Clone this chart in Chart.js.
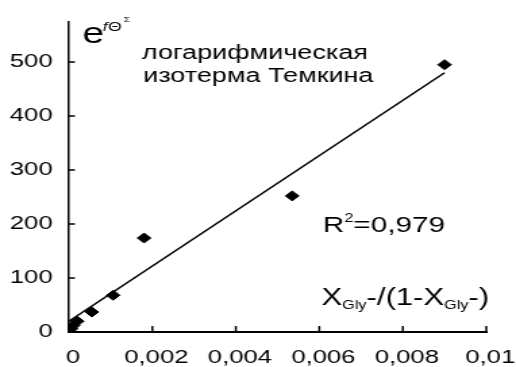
<!DOCTYPE html>
<html>
<head>
<meta charset="utf-8">
<script src="https://cdn.jsdelivr.net/npm/chart.js@4"></script>
<style>
  html, body { margin: 0; padding: 0; background: #fff; }
  #temkinChart { display: block; }
</style>
</head>
<body>
<!-- drawn narrow, shown stretched, like the source figure -->
<canvas id="temkinChart" width="382" height="367" style="width:516px;height:367px"></canvas>
<script>
const xValues = [0, 0.00005, 0.0001, 0.0002, 0.00055, 0.00106, 0.0018, 0.00535, 0.009];
const yValues = [2, 6, 12, 20, 37, 68, 174, 252, 495];
const fitX = [0, 0.009];
const fitY = [20, 480];
const xTicks = [0, 0.002, 0.004, 0.006, 0.008, 0.01];
const xTickLabels = ['0', '0,002', '0,004', '0,006', '0,008', '0,01'];
const yTicks = [0, 100, 200, 300, 400, 500];

const FONT = '"Liberation Sans", Arial, sans-serif';

// inward tick marks and the text on the plot
const annotations = {
  id: 'annotations',
  afterDraw(chart) {
    const ctx = chart.ctx;
    const xs = chart.scales.x;
    const ys = chart.scales.y;
    const area = chart.chartArea;

    ctx.save();
    ctx.strokeStyle = '#000';
    ctx.lineWidth = 1.5;
    ctx.beginPath();
    xTicks.slice(1).forEach(v => {
      const px = xs.getPixelForValue(v);
      ctx.moveTo(px, area.bottom);
      ctx.lineTo(px, area.bottom - 6);
    });
    yTicks.slice(1).forEach(v => {
      const py = ys.getPixelForValue(v);
      ctx.moveTo(area.left, py);
      ctx.lineTo(area.left + 4.5, py);
    });
    ctx.stroke();

    ctx.fillStyle = '#000';
    ctx.textBaseline = 'alphabetic';
    ctx.textAlign = 'left';

    // e^{fΘ^Σ}
    ctx.font = '29px ' + FONT;
    ctx.fillText('e', 61, 43);
    ctx.font = 'italic 13px ' + FONT;
    ctx.fillText('f', 76, 31);
    ctx.font = '13px ' + FONT;
    ctx.fillText('Θ', 80, 31);
    ctx.font = '8px ' + FONT;
    ctx.fillText('Σ', 91.5, 22);

    ctx.font = '20px ' + FONT;
    ctx.fillText('логарифмическая', 105, 59);
    ctx.fillText('изотерма Темкина', 106, 82);

    // R²=0,979
    let x = 239;
    ctx.font = '22px ' + FONT;
    ctx.fillText('R', x, 232);
    x += ctx.measureText('R').width;
    ctx.font = '12px ' + FONT;
    ctx.fillText('2', x, 222);
    x += ctx.measureText('2').width;
    ctx.font = '22px ' + FONT;
    ctx.fillText('=0,979', x, 232);

    // X_Gly-/(1-X_Gly-)
    const parts = [['X', 23, 0], ['Gly', 12, 4], ['-/(1-X', 23, 0], ['Gly', 12, 4], ['-)', 23, 0]];
    x = 238;
    parts.forEach(([t, size, dy]) => {
      ctx.font = size + 'px ' + FONT;
      ctx.fillText(t, x, 305 + dy);
      x += ctx.measureText(t).width;
    });
    ctx.restore();
  }
};

new Chart(document.getElementById('temkinChart').getContext('2d'), {
  data: {
    datasets: [{
      type: 'scatter',
      data: xValues.map((v, i) => ({ x: v, y: yValues[i] })),
      pointStyle: 'rectRot',
      pointRadius: 5,
      borderWidth: 1,
      backgroundColor: '#000',
      borderColor: '#000',
      order: 1
    }, {
      type: 'line',
      data: fitX.map((v, i) => ({ x: v, y: fitY[i] })),
      borderColor: '#000',
      borderWidth: 1.6,
      pointRadius: 0,
      fill: false,
      order: 2
    }]
  },
  options: {
    responsive: false,
    devicePixelRatio: 1,
    animation: false,
    events: [],
    layout: { padding: { top: 22, right: 22, left: 0, bottom: 0 } },
    plugins: {
      legend: { display: false },
      tooltip: { enabled: false }
    },
    scales: {
      x: {
        type: 'linear',
        min: 0,
        max: 0.01,
        grid: { display: false, drawTicks: false },
        border: { display: true, color: '#000', width: 2 },
        afterBuildTicks: scale => { scale.ticks = xTicks.map(v => ({ value: v })); },
        afterFit: scale => { scale.height = 35; scale.paddingLeft = 0; scale.paddingRight = 0; },
        ticks: {
          color: '#000',
          padding: 14,
          labelOffset: 3,
          maxRotation: 0,
          autoSkip: false,
          font: { family: FONT, size: 19 },
          callback: (value, index) => xTickLabels[index]
        }
      },
      y: {
        type: 'linear',
        min: 0,
        max: 574,
        grid: { display: false, drawTicks: false },
        border: { display: true, color: '#000', width: 1.5 },
        afterBuildTicks: scale => { scale.ticks = yTicks.map(v => ({ value: v })); },
        afterFit: scale => { scale.width = 51; scale.paddingTop = 0; scale.paddingBottom = 0; },
        ticks: {
          color: '#000',
          padding: 12,
          font: { family: FONT, size: 19 },
          callback: value => String(value)
        }
      }
    }
  },
  plugins: [annotations]
});
</script>
</body>
</html>
